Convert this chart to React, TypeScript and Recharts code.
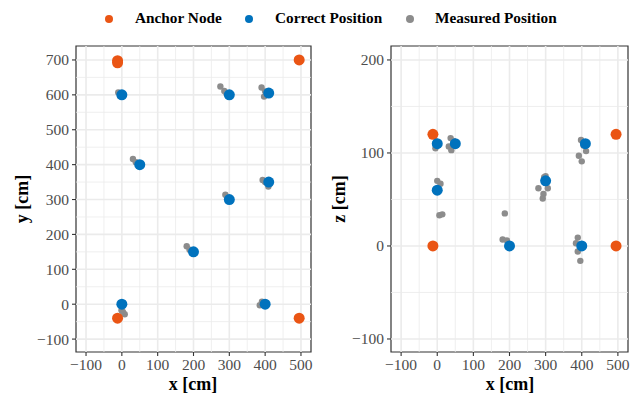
import React from 'react'
import {
  ScatterChart,
  Scatter,
  XAxis,
  YAxis,
  ReferenceLine,
  ReferenceArea,
} from 'recharts'

// tick values
const xTicks = [-100, 0, 100, 200, 300, 400, 500]
const xMinor = [-50, 50, 150, 250, 350, 450]
const yTicks = [-100, 0, 100, 200, 300, 400, 500, 600, 700]
const yMinor = [-50, 50, 150, 250, 350, 450, 550, 650]
const zTicks = [-100, 0, 100, 200]
const zMinor = [-50, 50, 150]

const xDomain = [-128, 528]
const yDomain = [-137, 740]
const zDomain = [-114, 215]

// x / y panel
const anchorXY = [
  { x: -12, y: 698 },
  { x: -12, y: 692 },
  { x: 495, y: 700 },
  { x: -12, y: -40 },
  { x: 495, y: -40 },
]
const correctXY = [
  { x: 0, y: 600 },
  { x: 50, y: 400 },
  { x: 300, y: 600 },
  { x: 410, y: 605 },
  { x: 410, y: 350 },
  { x: 300, y: 300 },
  { x: 200, y: 150 },
  { x: 0, y: 0 },
  { x: 400, y: 0 },
]
const measuredXY = [
  { x: -10, y: 607 }, { x: -5, y: 597 }, { x: -3, y: 603 },
  { x: 275, y: 624 }, { x: 286, y: 611 }, { x: 292, y: 604 },
  { x: 390, y: 621 }, { x: 397, y: 595 }, { x: 400, y: 610 },
  { x: 31, y: 416 }, { x: 39, y: 407 }, { x: 45, y: 405 },
  { x: 289, y: 314 }, { x: 295, y: 305 },
  { x: 393, y: 356 }, { x: 409, y: 337 }, { x: 400, y: 350 },
  { x: 181, y: 166 }, { x: 189, y: 156 },
  { x: -1, y: -17 }, { x: 8, y: -29 }, { x: 3, y: -22 },
  { x: 385, y: -3 }, { x: 391, y: 7 },
]

// x / z panel
const anchorXZ = [
  { x: -12, z: 120 },
  { x: -12, z: 0 },
  { x: 495, z: 120 },
  { x: 495, z: 0 },
]
const correctXZ = [
  { x: 0, z: 110 },
  { x: 50, z: 110 },
  { x: 0, z: 60 },
  { x: 300, z: 70 },
  { x: 410, z: 110 },
  { x: 200, z: 0 },
  { x: 400, z: 0 },
]
const measuredXZ = [
  { x: -5, z: 105 }, { x: -3, z: 112 },
  { x: 37, z: 116 }, { x: 32, z: 107 }, { x: 39, z: 103 }, { x: 45, z: 113 },
  { x: 0, z: 70 }, { x: 9, z: 67 },
  { x: 296, z: 74 }, { x: 280, z: 62 }, { x: 306, z: 62 }, { x: 294, z: 56 }, { x: 292, z: 51 }, { x: 300, z: 75 },
  { x: 398, z: 114 }, { x: 412, z: 102 }, { x: 392, z: 97 }, { x: 400, z: 91 }, { x: 405, z: 108 },
  { x: 6, z: 33 }, { x: 14, z: 34 },
  { x: 187, z: 35 }, { x: 181, z: 7 }, { x: 193, z: 6 },
  { x: 389, z: 9 }, { x: 384, z: 3 }, { x: 389, z: -6 }, { x: 396, z: -16 },
]

const ORANGE = '#EA5514'
const BLUE = '#0072BD'
const GREY = '#8C8C8C'
const FONT = '"Liberation Serif", "Times New Roman", serif'

const fmt = (v: number) => (v < 0 ? `\u2212${Math.abs(v)}` : `${v}`)
const tickStyle = { fill: '#4D4D4D', fontSize: 15.5, fontFamily: FONT }

const dot = (r: number, fill: string) => (p: any) =>
  <circle cx={p.cx} cy={p.cy} r={r} fill={fill} />

function Panel({
  left,
  width,
  yWidth,
  yKey,
  yTicks: yt,
  yMinor: ym,
  yDomain: yd,
  anchor,
  correct,
  measured,
}: any) {
  return (
    <div style={{ position: 'absolute', left, top: 0 }}>
      <ScatterChart
        width={width}
        height={401}
        margin={{ top: 46, right: 11, left: 0, bottom: 0 }}
      >
        <XAxis
          type="number"
          dataKey="x"
          domain={xDomain}
          ticks={xTicks}
          allowDataOverflow
          height={49}
          tick={tickStyle}
          tickFormatter={fmt}
          tickSize={4}
          tickMargin={3}
          tickLine={{ stroke: '#333333', strokeWidth: 1.1 }}
          axisLine={false}
        />
        <YAxis
          type="number"
          dataKey={yKey}
          domain={yd}
          ticks={yt}
          allowDataOverflow
          width={yWidth}
          tick={tickStyle}
          tickFormatter={fmt}
          tickSize={4}
          tickMargin={3}
          tickLine={{ stroke: '#333333', strokeWidth: 1.1 }}
          axisLine={false}
        />
        {xMinor.map((v) => (
          <ReferenceLine key={'xm' + v} x={v} stroke="#EBEBEB" strokeWidth={0.8} />
        ))}
        {ym.map((v: number) => (
          <ReferenceLine key={'ym' + v} y={v} stroke="#EBEBEB" strokeWidth={0.8} />
        ))}
        {xTicks.map((v) => (
          <ReferenceLine key={'x' + v} x={v} stroke="#EBEBEB" strokeWidth={1.6} />
        ))}
        {yt.map((v: number) => (
          <ReferenceLine key={'y' + v} y={v} stroke="#EBEBEB" strokeWidth={1.6} />
        ))}
        <Scatter data={measured} shape={dot(3.2, GREY)} isAnimationActive={false} />
        <Scatter data={anchor} shape={dot(5.5, ORANGE)} isAnimationActive={false} />
        <Scatter data={correct} shape={dot(5.5, BLUE)} isAnimationActive={false} />
        <ReferenceArea
          x1={xDomain[0]}
          x2={xDomain[1]}
          y1={yd[0]}
          y2={yd[1]}
          fill="none"
          fillOpacity={0}
          stroke="#333333"
          strokeWidth={1.2}
        />
      </ScatterChart>
    </div>
  )
}

const legendItems = [
  { label: 'Anchor Node', color: ORANGE, dotX: 109, textX: 135 },
  { label: 'Correct Position', color: BLUE, dotX: 249, textX: 275 },
  { label: 'Measured Position', color: GREY, dotX: 410, textX: 435 },
]

const titleStyle: React.CSSProperties = {
  position: 'absolute',
  fontFamily: FONT,
  fontWeight: 'bold',
  fontSize: 18,
  color: '#000',
  whiteSpace: 'nowrap',
}

export default function App() {
  return (
    <div
      style={{
        position: 'absolute',
        left: 0,
        top: 0,
        width: 639,
        height: 401,
        background: '#fff',
        overflow: 'hidden',
      }}
    >
      {legendItems.map((it) => (
        <React.Fragment key={it.label}>
          <div
            style={{
              position: 'absolute',
              left: it.dotX - 4,
              top: 15,
              width: 8,
              height: 8,
              borderRadius: 4,
              background: it.color,
            }}
          />
          <div
            style={{
              position: 'absolute',
              left: it.textX,
              top: 8,
              fontFamily: FONT,
              fontWeight: 'bold',
              fontSize: 15.3,
              lineHeight: '20px',
              whiteSpace: 'nowrap',
            }}
          >
            {it.label}
          </div>
        </React.Fragment>
      ))}
      <Panel
        left={0}
        width={322}
        yWidth={76}
        yKey="y"
        yTicks={yTicks}
        yMinor={yMinor}
        yDomain={yDomain}
        anchor={anchorXY}
        correct={correctXY}
        measured={measuredXY}
      />
      <Panel
        left={320}
        width={319}
        yWidth={71}
        yKey="z"
        yTicks={zTicks}
        yMinor={zMinor}
        yDomain={zDomain}
        anchor={anchorXZ}
        correct={correctXZ}
        measured={measuredXZ}
      />
      <div style={{ ...titleStyle, left: 193, top: 374, transform: 'translateX(-50%)' }}>
        x [cm]
      </div>
      <div style={{ ...titleStyle, left: 510, top: 374, transform: 'translateX(-50%)' }}>
        x [cm]
      </div>
      <div
        style={{
          ...titleStyle,
          left: 22,
          top: 199,
          transform: 'translate(-50%, -50%) rotate(-90deg)',
        }}
      >
        y [cm]
      </div>
      <div
        style={{
          ...titleStyle,
          left: 339,
          top: 199,
          transform: 'translate(-50%, -50%) rotate(-90deg)',
        }}
      >
        z [cm]
      </div>
    </div>
  )
}
